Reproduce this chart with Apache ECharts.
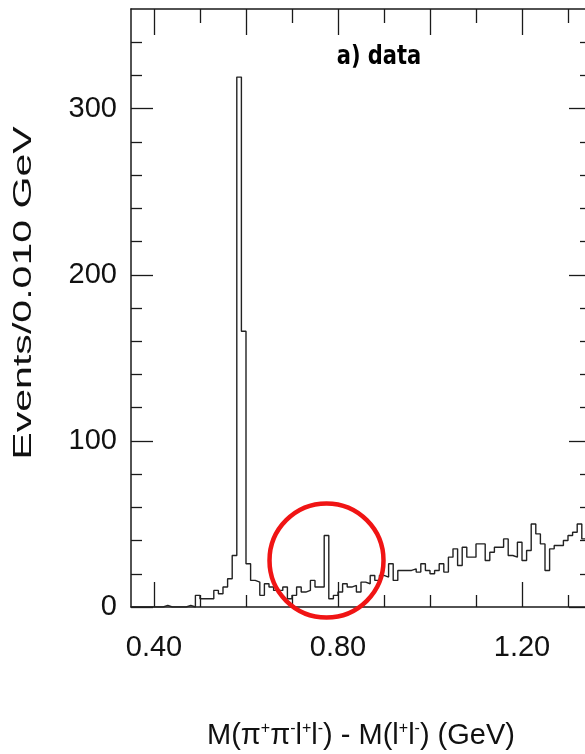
<!DOCTYPE html>
<html>
<head>
<meta charset="utf-8">
<script src="https://cdn.jsdelivr.net/npm/echarts@6/dist/echarts.min.js"></script>
<style>
  html, body { margin: 0; padding: 0; background: #fff; }
  #chart { width: 585px; height: 754px; }
</style>
</head>
<body>
<div id="chart"></div>
<script>
// Histogram binning: 0.010 GeV bins starting at 0.35 GeV
const binStart = 0.35;
const binWidth = 0.01;
const binCount = 100;

// Events per bin
const counts = [
  0, 0, 0, 0, 0, 0, 0, 1, 0, 0,
  0, 0, 1, 0, 7, 5, 5, 5, 10, 8,
  12, 17, 31, 319, 166, 26, 16, 15, 7, 14,
  12, 10, 10, 12, 5, 7, 12, 9, 10, 16,
  12, 12, 43, 5, 7, 9, 14, 12, 13, 9,
  15, 14, 19, 16, 19, 18, 26, 16, 22, 22,
  22, 23, 21, 26, 22, 20, 22, 26, 21, 30,
  35, 25, 36, 30, 30, 38, 38, 28, 33, 36,
  36, 41, 31, 30, 39, 28, 34, 50, 44, 38,
  22, 35, 37, 37, 40, 43, 45, 50, 41, 47
];

// Axis ranges and tick positions
const xRange = [0.35, 1.35];
const yRange = [0, 360];
const xLabelValues = [0.4, 0.8, 1.2];
const xBottomShortTicks = [0.5, 0.6, 0.7, 0.9, 1.0, 1.1, 1.3];
const xTopLongTicks = [0.4, 0.6, 0.8, 1.0, 1.2];
const xTopShortTicks = [0.5, 0.7, 0.9, 1.1, 1.3];
const yLabelValues = [0, 100, 200, 300];
const yShortTicks = [20, 40, 60, 80, 120, 140, 160, 180, 220, 240, 260, 280, 320, 340];

// Highlighted region around the narrow peak (data coordinates)
const ringCenter = [0.775, 28];
const ringRadius = 57;

const xTitle = 'M(π{sup|+}π{sup|-}l{sup|+}l{sup|-}) - M(l{sup|+}l{sup|-}) (GeV)';
const yTitle = 'Events/0.010 GeV';
const plotTitle = 'a) data';

const ink = '#1a1a1a';
const numFont = "'Liberation Sans', Arial, sans-serif";

// Step outline: left bin edges, plus the closing right edge
const stepPoints = counts.map((c, i) => [binStart + i * binWidth, c]);
stepPoints.push([binStart + binCount * binWidth, counts[binCount - 1]]);

function xAxisDef(position, tickValues, tickLen, withLabels, withLine) {
  return {
    type: 'value', position: position, min: xRange[0], max: xRange[1],
    axisLine: { show: withLine, onZero: false, lineStyle: { color: ink, width: 1.5 } },
    axisTick: { show: true, inside: true, length: tickLen, customValues: tickValues,
                lineStyle: { color: ink, width: 1.3 } },
    axisLabel: withLabels ? {
      show: true, customValues: xLabelValues, margin: 26,
      formatter: v => Number(v).toFixed(2),
      fontFamily: numFont, fontSize: 29, color: '#111'
    } : { show: false },
    splitLine: { show: false }
  };
}

function yAxisDef(position, tickValues, tickLen, withLabels, withLine) {
  return {
    type: 'value', position: position, min: yRange[0], max: yRange[1],
    axisLine: { show: withLine, onZero: false, lineStyle: { color: ink, width: 1.5 } },
    axisTick: { show: true, inside: true, length: tickLen, customValues: tickValues,
                lineStyle: { color: ink, width: 1.3 } },
    axisLabel: withLabels ? {
      show: true, customValues: yLabelValues, margin: 14,
      fontFamily: numFont, fontSize: 29, color: '#111'
    } : { show: false },
    splitLine: { show: false }
  };
}

const chart = echarts.init(document.getElementById('chart'), null, { renderer: 'canvas' });

const bottomMain = xAxisDef('bottom', xLabelValues, 25, true, true);
bottomMain.name = xTitle;
bottomMain.nameLocation = 'middle';
bottomMain.nameGap = 114;
bottomMain.nameTextStyle = {
  fontFamily: "'Liberation Sans', Arial, sans-serif", fontSize: 29, color: '#111',
  rich: { sup: { fontFamily: "'Liberation Sans', Arial, sans-serif", fontSize: 16,
                 verticalAlign: 'top', color: '#111' } }
};

chart.setOption({
  animation: false,
  backgroundColor: '#fff',
  grid: { left: 131, top: 9, width: 460, height: 598, containLabel: false, outerBoundsMode: 'none' },
  xAxis: [
    bottomMain,
    xAxisDef('bottom', xBottomShortTicks, 12, false, false),
    xAxisDef('top', xTopLongTicks, 26, false, true),
    xAxisDef('top', xTopShortTicks, 14, false, false)
  ],
  yAxis: [
    yAxisDef('left', yLabelValues, 22, true, true),
    yAxisDef('left', yShortTicks, 11, false, false),
    yAxisDef('right', yLabelValues, 22, false, true),
    yAxisDef('right', yShortTicks, 11, false, false)
  ],
  series: [{
    type: 'line',
    xAxisIndex: 0, yAxisIndex: 0,
    data: stepPoints,
    step: 'end',
    symbol: 'none',
    lineStyle: { color: '#222', width: 1.4 },
    silent: true
  }]
});

// Annotation ring and titles placed after the axes are laid out
const c = chart.convertToPixel({ xAxisIndex: 0, yAxisIndex: 0 }, ringCenter);
chart.setOption({
  graphic: [
    {
      type: 'circle', shape: { cx: c[0], cy: c[1], r: ringRadius },
      style: { fill: 'none', stroke: '#f01414', lineWidth: 4.5 }, z: 100
    },
    {
      type: 'text', x: 379, y: 57, scaleY: 1.25,
      style: { text: plotTitle, fontFamily: "'DejaVu Sans', sans-serif", fontWeight: 'bold',
               fontSize: 21, align: 'center', verticalAlign: 'middle', fill: '#000' }
    },
    {
      type: 'text', x: 24, y: 293, rotation: Math.PI / 2, scaleX: 1.58,
      style: { text: yTitle, fontFamily: "'Liberation Sans', Arial, sans-serif",
               fontSize: 26, align: 'center', verticalAlign: 'middle', fill: '#111' }
    }
  ]
});
</script>
</body>
</html>
